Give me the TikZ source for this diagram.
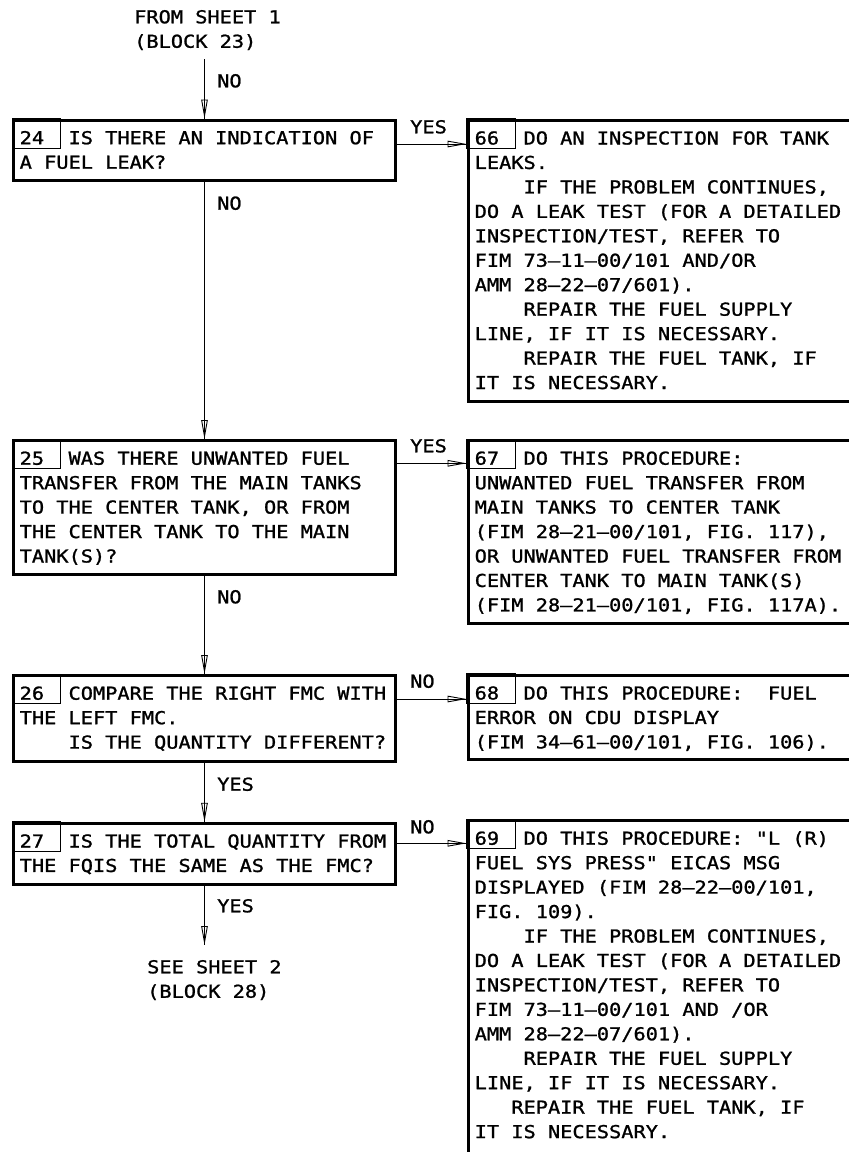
\documentclass[tikz,border=0pt]{standalone}
\usepackage{fontspec}
\usetikzlibrary{arrows.meta}
\newfontfamily\fim[FakeStretch=1.14, FakeBold=1.2, Ligatures=TeXOff]{DejaVu Sans Mono}
\newcommand\fimsize{\fim\fontsize{17.8pt}{24.45pt}\selectfont}
% stacked text lines, baseline of the node = baseline of the first line
\newcommand\fimlines[1]{\vtop{\lineskiplimit=-100pt\baselineskip=24.45pt\halign{##\hfil\cr#1\crcr}}}

\tikzset{
  fimbox/.style={draw, rectangle, line width=3pt, inner sep=0pt, outer sep=1.5pt, anchor=north west},
  numbox/.style={draw, line width=0.9pt},
  boxtext/.style={anchor=base west, inner sep=0pt, font=\fimsize},
  lbl/.style={anchor=base west, inner sep=0pt, font=\fimsize},
  flow/.style={draw, line width=0.9pt,
    postaction={draw, -{Triangle[open, length=19pt, width=6.5pt, line width=0.9pt]}}},
}

\begin{document}
\begin{tikzpicture}[x=1pt, y=-1pt]
\useasboundingbox (0,0) rectangle (849,1152);
\clip (0,0) rectangle (849,1152);

% ---------- terminal texts ----------
\node[boxtext] (from) at (134,23.3) {\fimlines{FROM SHEET 1\cr(BLOCK 23)}};
\coordinate (c0) at (204.5,59.3);
\node[boxtext] (see) at (147,973.3) {\fimlines{SEE SHEET 2\cr(BLOCK 28)}};
\coordinate (c1) at (204.5,945);

% ---------- decision blocks (left column) ----------
\node[fimbox, minimum width=382pt, minimum height=60.5pt]  (b24) at (12,118.5) {};
\node[fimbox, minimum width=382pt, minimum height=133.5pt] (b25) at (12,439) {};
\node[fimbox, minimum width=382pt, minimum height=86pt]    (b26) at (12,674) {};
\node[fimbox, minimum width=382pt, minimum height=61.2pt]  (b27) at (12,821.8) {};

% ---------- action blocks (right column) ----------
\node[fimbox, minimum width=400pt, minimum height=281.2pt] (b66) at (466.5,118.8) {};
\node[fimbox, minimum width=400pt, minimum height=183pt]   (b67) at (466.5,439) {};
\node[fimbox, minimum width=400pt, minimum height=83.7pt]  (b68) at (466.5,673.8) {};
\node[fimbox, minimum width=400pt, minimum height=378pt]   (b69) at (466.5,819) {};

% ---------- block number boxes ----------
\foreach \b in {b24,b25,b26,b27,b66,b67,b68,b69}
  \draw[numbox] (\b.north west) rectangle ++(48.5,29.8);

% ---------- block texts ----------
\node[boxtext] (t24) at ([shift={(7.5,25.7)}]b24.north west) {\fimlines{%
24\ \ IS THERE AN INDICATION OF\cr
A FUEL LEAK?}};

\node[boxtext] (t25) at ([shift={(7.5,25.7)}]b25.north west) {\fimlines{%
25\ \ WAS THERE UNWANTED FUEL\cr
TRANSFER FROM THE MAIN TANKS\cr
TO THE CENTER TANK, OR FROM\cr
THE CENTER TANK TO THE MAIN\cr
TANK(S)?}};

\node[boxtext] (t26) at ([shift={(7.5,25.7)}]b26.north west) {\fimlines{%
26\ \ COMPARE THE RIGHT FMC WITH\cr
THE LEFT FMC.\cr
\ \ \ \ IS THE QUANTITY DIFFERENT?}};

\node[boxtext] (t27) at ([shift={(7.5,25.7)}]b27.north west) {\fimlines{%
27\ \ IS THE TOTAL QUANTITY FROM\cr
THE FQIS THE SAME AS THE FMC?}};

\node[boxtext] (t66) at ([shift={(8,25.7)}]b66.north west) {\fimlines{%
66\ \ DO AN INSPECTION FOR TANK\cr
LEAKS.\cr
\ \ \ \ IF THE PROBLEM CONTINUES,\cr
DO A LEAK TEST (FOR A DETAILED\cr
INSPECTION/TEST, REFER TO\cr
FIM 73–11–00/101 AND/OR\cr
AMM 28–22–07/601).\cr
\ \ \ \ REPAIR THE FUEL SUPPLY\cr
LINE, IF IT IS NECESSARY.\cr
\ \ \ \ REPAIR THE FUEL TANK, IF\cr
IT IS NECESSARY.}};

\node[boxtext] (t67) at ([shift={(8,25.7)}]b67.north west) {\fimlines{%
67\ \ DO THIS PROCEDURE:\cr
UNWANTED FUEL TRANSFER FROM\cr
MAIN TANKS TO CENTER TANK\cr
(FIM 28–21–00/101, FIG. 117),\cr
OR UNWANTED FUEL TRANSFER FROM\cr
CENTER TANK TO MAIN TANK(S)\cr
(FIM 28–21–00/101, FIG. 117A).}};

\node[boxtext] (t68) at ([shift={(8,25.7)}]b68.north west) {\fimlines{%
68\ \ DO THIS PROCEDURE:\ \ FUEL\cr
ERROR ON CDU DISPLAY\cr
(FIM 34–61–00/101, FIG. 106).}};

\node[boxtext] (t69) at ([shift={(8,25.7)}]b69.north west) {\fimlines{%
69\ \ DO THIS PROCEDURE: "L (R)\cr
FUEL SYS PRESS" EICAS MSG\cr
DISPLAYED (FIM 28–22–00/101,\cr
FIG. 109).\cr
\ \ \ \ IF THE PROBLEM CONTINUES,\cr
DO A LEAK TEST (FOR A DETAILED\cr
INSPECTION/TEST, REFER TO\cr
FIM 73–11–00/101 AND /OR\cr
AMM 28–22–07/601).\cr
\ \ \ \ REPAIR THE FUEL SUPPLY\cr
LINE, IF IT IS NECESSARY.\cr
\ \ \ REPAIR THE FUEL TANK, IF\cr
IT IS NECESSARY.}};

% ---------- vertical flow ----------
\draw[flow] (c0) -- (b24.north);
\draw[flow] (b24.south) -- (b25.north);
\draw[flow] (b25.south) -- (b26.north);
\draw[flow] (b26.south) -- (b27.north);
\draw[flow] (b27.south) -- (c1);

% ---------- horizontal flow ----------
\draw[flow] (b24.east |- 0,144)   -- (b66.west |- 0,144);
\draw[flow] (b25.east |- 0,463.3) -- (b67.west |- 0,463.3);
\draw[flow] (b26.east |- 0,699)   -- (b68.west |- 0,699);
\draw[flow] (b27.east |- 0,843.3) -- (b69.west |- 0,843.3);

% ---------- branch labels ----------
\node[lbl] (l0)  at (217,87.3)  {NO};
\node[lbl] (l1)  at (217,209.7) {NO};
\node[lbl] (l2)  at (217,603.3) {NO};
\node[lbl] (l3)  at (217,790.7) {YES};
\node[lbl] (l4)  at (217,912.3) {YES};
\node[lbl] (r24) at (410,133.3) {YES};
\node[lbl] (r25) at (410,452.3) {YES};
\node[lbl] (r26) at (410,687.7) {NO};
\node[lbl] (r27) at (410,833.3) {NO};
\end{tikzpicture}
\end{document}
